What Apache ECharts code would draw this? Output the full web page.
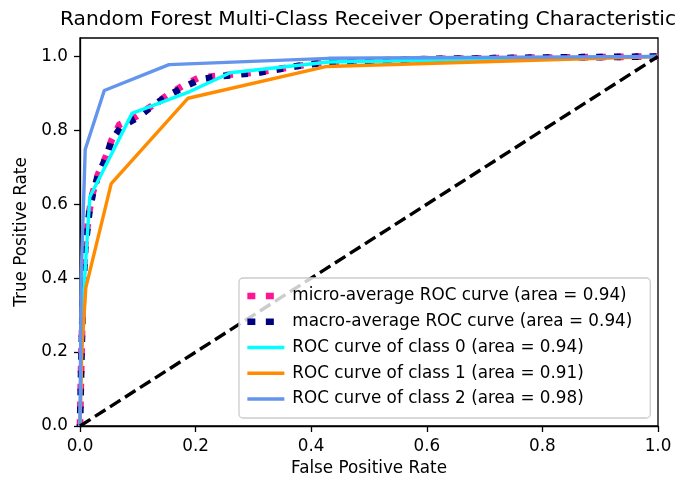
<!DOCTYPE html>
<html>
<head>
<meta charset="utf-8">
<script src="https://cdn.jsdelivr.net/npm/echarts@6/dist/echarts.min.js"></script>
<style>html,body{margin:0;padding:0;background:#fff;}#chart{width:688px;height:480px;}</style>
</head>
<body>
<div id="chart"></div>
<script>
// ---- data ----
const titleText = 'Random Forest Multi-Class Receiver Operating Characteristic';
const xAxisName = 'False Positive Rate';
const yAxisName = 'True Positive Rate';
const xTicks = [0, 0.2, 0.4, 0.6, 0.8, 1.0];
const yTicks = [0, 0.2, 0.4, 0.6, 0.8, 1.0];

const seriesNames = ['micro-average ROC curve', 'macro-average ROC curve', 'ROC curve of class 0', 'ROC curve of class 1', 'ROC curve of class 2'];
const areaValues = [0.94, 0.94, 0.94, 0.91, 0.98];

const microFpr = [0, 0.002, 0.005, 0.009, 0.016, 0.022, 0.031, 0.045, 0.055, 0.068, 0.098, 0.126, 0.152, 0.180, 0.205, 0.240, 0.275, 0.308, 0.38, 0.43, 0.6, 0.8, 1];
const microTpr = [0, 0.16, 0.36, 0.49, 0.58, 0.63, 0.68, 0.73, 0.775, 0.815, 0.838, 0.868, 0.896, 0.923, 0.942, 0.948, 0.953, 0.957, 0.975, 0.985, 0.993, 0.997, 1];

const macroFpr = [0, 0.002, 0.005, 0.009, 0.016, 0.022, 0.031, 0.045, 0.054, 0.071, 0.100, 0.126, 0.152, 0.182, 0.208, 0.239, 0.273, 0.308, 0.38, 0.43, 0.6, 0.8, 1];
const macroTpr = [0, 0.15, 0.35, 0.48, 0.577, 0.626, 0.678, 0.726, 0.77, 0.81, 0.835, 0.867, 0.894, 0.919, 0.938, 0.946, 0.951, 0.956, 0.975, 0.985, 0.993, 0.997, 1];

const class0Fpr = [0, 0.004, 0.010, 0.017, 0.090, 0.190, 0.260, 0.430, 1];
const class0Tpr = [0, 0.30, 0.45, 0.62, 0.846, 0.905, 0.956, 0.985, 1];

const class1Fpr = [0, 0.003, 0.010, 0.054, 0.187, 0.427, 1];
const class1Tpr = [0, 0.20, 0.374, 0.656, 0.887, 0.973, 1];

const class2Fpr = [0, 0.002, 0.009, 0.042, 0.154, 0.43, 1];
const class2Tpr = [0, 0.40, 0.748, 0.908, 0.978, 0.995, 1];

const chanceFpr = [0, 1];
const chanceTpr = [0, 1];

// ---- build ----
const zip = (xs, ys) => xs.map((x, i) => [x, ys[i]]);
const labels = seriesNames.map((n, i) => n + ' (area = ' + areaValues[i].toFixed(2) + ')');
const FONT = 'DejaVu Sans';
const TXT = '#000';

function lineSeries(name, data, color, width, type, offset) {
  return {
    name: name, type: 'line', data: data, symbol: 'none', showSymbol: false,
    silent: true, clip: true,
    lineStyle: { color: color, width: width, type: type, dashOffset: offset || 0, cap: 'butt', join: 'round' },
    itemStyle: { color: color }
  };
}

const dotted = [6.7, 11.1];
const legendDotted = [8, 10.5];
const chart = echarts.init(document.getElementById('chart'), null, { renderer: 'canvas' });
chart.setOption({
  animation: false,
  backgroundColor: '#fff',
  title: {
    text: titleText, left: 60, top: 8, padding: 0,
    textStyle: { fontFamily: FONT, fontSize: 20.2, fontWeight: 'normal', color: TXT, lineHeight: 24 }
  },
  grid: { left: 80, top: 38, width: 578, height: 388, show: true, borderColor: '#000', borderWidth: 1.3,
    backgroundColor: 'transparent', containLabel: false, outerBoundsMode: 'none' },
  legend: {
    orient: 'vertical', left: 239, top: 278, padding: [8, 18, 9, 5],
    itemWidth: 37, itemHeight: 14, itemGap: 5.75, selectedMode: false,
    backgroundColor: 'rgba(255,255,255,0.8)', borderColor: '#cccccc', borderWidth: 1.3, borderRadius: 4,
    lineStyle: { width: 'inherit' },
    itemStyle: { opacity: 0, borderWidth: 0, color: 'rgba(0,0,0,0)' },
    textStyle: { fontFamily: FONT, fontSize: 16.8, color: TXT, lineHeight: 20, padding: [0, 0, 0, 3] },
    data: labels.map((l, i) => i < 2 ? { name: l, lineStyle: { type: legendDotted, dashOffset: 0 } } : { name: l })
  },
  xAxis: {
    type: 'value', min: 0, max: 1, interval: 0.2,
    name: xAxisName, nameLocation: 'middle', nameGap: 32,
    nameTextStyle: { fontFamily: FONT, fontSize: 16.8, color: TXT },
    axisLine: { show: true, onZero: false, lineStyle: { color: '#000', width: 1.3 } },
    axisTick: { show: true, inside: false, length: 6, lineStyle: { color: '#000', width: 1.3 }, customValues: xTicks },
    axisLabel: { margin: 12, fontFamily: FONT, fontSize: 16.8, color: TXT, customValues: xTicks, formatter: v => Number(v).toFixed(1) },
    splitLine: { show: false }
  },
  yAxis: {
    type: 'value', min: 0, max: 1.05, interval: 0.2,
    name: yAxisName, nameLocation: 'middle', nameGap: 45,
    nameTextStyle: { fontFamily: FONT, fontSize: 16.8, color: TXT },
    axisLine: { show: true, onZero: false, lineStyle: { color: '#000', width: 1.3 } },
    axisTick: { show: true, inside: false, length: 6, lineStyle: { color: '#000', width: 1.3 }, customValues: yTicks },
    axisLabel: { margin: 12, fontFamily: FONT, fontSize: 16.8, color: TXT, customValues: yTicks,
      formatter: v => Number(v).toFixed(1) },
    splitLine: { show: false }
  },
  series: [
    lineSeries(labels[0], zip(microFpr, microTpr), '#ff1493', 6.7, dotted, 0),
    lineSeries(labels[1], zip(macroFpr, macroTpr), '#000080', 6.7, dotted, 5),
    lineSeries(labels[2], zip(class0Fpr, class0Tpr), '#00ffff', 3.4, 'solid'),
    lineSeries(labels[3], zip(class1Fpr, class1Tpr), '#ff8c00', 3.4, 'solid'),
    lineSeries(labels[4], zip(class2Fpr, class2Tpr), '#6495ed', 3.4, 'solid'),
    lineSeries('chance', zip(chanceFpr, chanceTpr), '#000000', 3.4, [12.4, 5.4])
  ]
});
</script>
</body>
</html>
